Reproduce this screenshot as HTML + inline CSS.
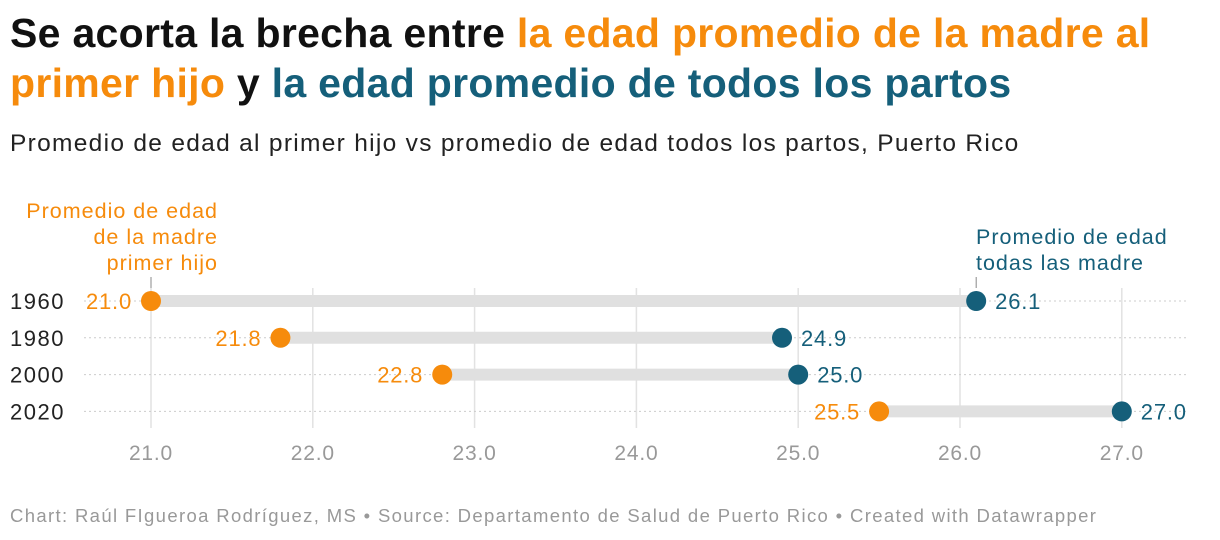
<!DOCTYPE html>
<html><head><meta charset="utf-8"><style>
body{margin:0;width:1220px;height:540px;background:#fff;font-family:"Liberation Sans",sans-serif;overflow:hidden;position:relative}
h1{position:absolute;left:10px;top:8px;margin:0;font-size:41px;line-height:50px;font-weight:bold;color:#111;letter-spacing:0.3px;width:1170px}
.o{color:#f68b0c}.t{color:#155f7a}
.sub{position:absolute;left:10px;top:130px;font-size:24.5px;letter-spacing:1.3px;color:#222}
.foot{position:absolute;left:10px;top:505px;font-size:18.5px;letter-spacing:1.35px;color:#999}
</style></head><body>
<h1>Se acorta la brecha entre <span class="o">la edad promedio de la madre al primer hijo</span> y <span class="t">la edad promedio de todos los partos</span></h1>
<div class="sub">Promedio de edad al primer hijo vs promedio de edad todos los partos, Puerto Rico</div>
<svg id="c" width="1220" height="540" style="position:absolute;left:0;top:0" font-family="Liberation Sans, sans-serif"></svg>
<div class="foot">Chart: Raúl FIgueroa Rodríguez, MS • Source: Departamento de Salud de Puerto Rico • Created with Datawrapper</div>
<script>
const years=["1960","1980","2000","2020"];
const firstChild=[21.0,21.8,22.8,25.5];
const allBirths=[26.1,24.9,25.0,27.0];
const ticks=[21,22,23,24,25,26,27];
const ORANGE="#f68b0c",TEAL="#155f7a";
const x=v=>151+(v-21)*161.8;
const y=i=>301+i*36.8;
const svg=document.getElementById('c');
const NS="http://www.w3.org/2000/svg";
function mk(tag,attrs,parent){const e=document.createElementNS(NS,tag);for(const k in attrs)e.setAttribute(k,attrs[k]);(parent||svg).appendChild(e);return e;}
ticks.forEach(t=>{
  const l=mk('line',{x1:x(t),x2:x(t),y1:288,y2:428,stroke:'#e2e2e2','stroke-width':1.5});
  
  
  const tx=mk('text',{x:x(t),y:460,'text-anchor':'middle','font-size':21,'letter-spacing':0.8,fill:'#999'});
  tx.textContent=t.toFixed(1);
  
  
});
years.forEach((yr,i)=>{
  const yy=y(i);
  const g=mk('line',{x1:84,x2:1186,y1:yy,y2:yy,stroke:'#ccc','stroke-width':1,'stroke-dasharray':'2,3'});
  
  
  const lb=mk('text',{x:10,y:yy+8,'font-size':22,'letter-spacing':1.5,fill:'#222'});
  lb.textContent=yr;
  
  
  const b=mk('line',{x1:x(firstChild[i]),x2:x(allBirths[i]),y1:yy,y2:yy,stroke:'#e0e0e0','stroke-width':12});
  
  
  const c1=mk('circle',{cx:x(firstChild[i]),cy:yy,r:10,fill:ORANGE});
  
  
  const c2=mk('circle',{cx:x(allBirths[i]),cy:yy,r:10,fill:TEAL});
  
  
  const v1=mk('text',{x:x(firstChild[i])-19,y:yy+8,'text-anchor':'end','font-size':22,'letter-spacing':0.8,fill:ORANGE});
  v1.textContent=firstChild[i].toFixed(1);
  
  
  const v2=mk('text',{x:x(allBirths[i])+19,y:yy+8,'font-size':22,'letter-spacing':0.8,fill:TEAL});
  v2.textContent=allBirths[i].toFixed(1);
  
  
});
const a1=mk('line',{x1:x(firstChild[0]),x2:x(firstChild[0]),y1:277,y2:288,stroke:'#888'});


const a2=mk('line',{x1:x(allBirths[0]),x2:x(allBirths[0]),y1:277,y2:288,stroke:'#888'});


[["Promedio de edad",218],["de la madre",244],["primer hijo",270]].forEach(([s,yy])=>{
  const t=mk('text',{x:218,y:yy,'text-anchor':'end','font-size':21.5,'letter-spacing':1,fill:ORANGE});
  t.textContent=s;
  
  
});
[["Promedio de edad",244],["todas las madre",270]].forEach(([s,yy])=>{
  const t=mk('text',{x:976,y:yy,'font-size':21.5,'letter-spacing':1,fill:TEAL});
  t.textContent=s;
  
  
});
</script>
</body></html>
